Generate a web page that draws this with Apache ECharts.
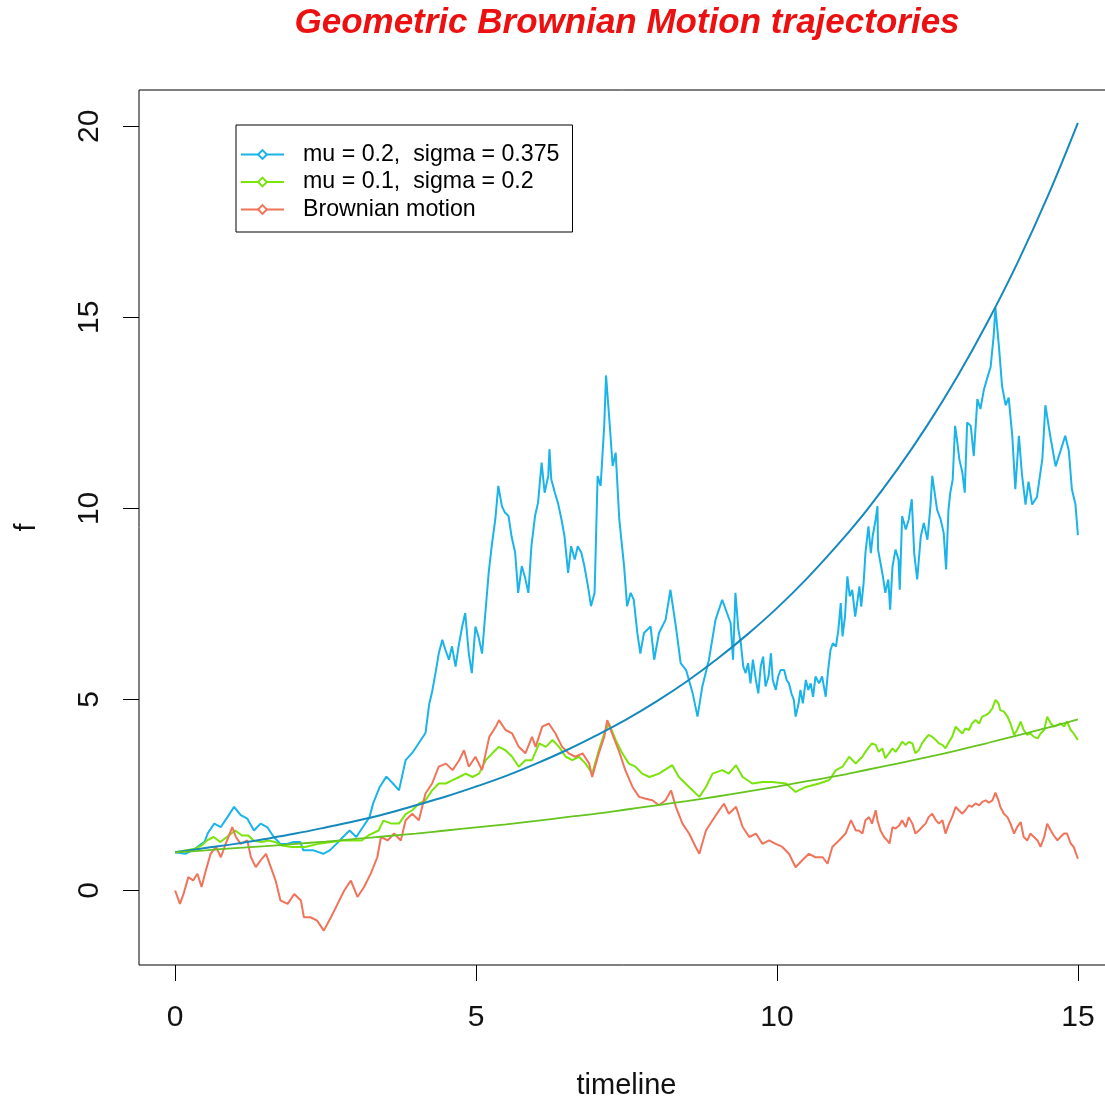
<!DOCTYPE html>
<html><head><meta charset="utf-8">
<script src="https://cdn.jsdelivr.net/npm/echarts@6/dist/echarts.min.js"></script>
<style>html,body{margin:0;padding:0;background:#fff}#c{width:1105px;height:1100px}</style>
</head><body><div id="c"></div><script>
const titleText = 'Geometric Brownian Motion trajectories';
const xName = 'timeline';
const yName = 'f';
const xTicks = [0, 5, 10, 15];
const yTicks = [0, 5, 10, 15, 20];
const legendNames = ['mu = 0.2,  sigma = 0.375', 'mu = 0.1,  sigma = 0.2', 'Brownian motion'];

// GBM trajectory mu=0.2 sigma=0.375 (time, value)
const blueT = [0.00,0.17,0.33,0.44,0.49,0.54,0.65,0.76,0.87,0.98,1.09,1.20,1.31,1.42,1.53,1.64,1.75,1.86,1.97,2.08,2.13,2.30,2.46,2.57,2.68,2.79,2.90,3.01,3.12,3.23,3.29,3.40,3.51,3.62,3.72,3.83,3.94,4.05,4.16,4.22,4.27,4.33,4.38,4.44,4.49,4.55,4.60,4.66,4.71,4.77,4.82,4.88,4.93,4.99,5.04,5.10,5.15,5.21,5.26,5.32,5.37,5.43,5.48,5.54,5.59,5.65,5.70,5.76,5.81,5.87,5.92,5.98,6.03,6.09,6.14,6.20,6.22,6.25,6.31,6.36,6.42,6.47,6.53,6.58,6.64,6.69,6.75,6.80,6.86,6.91,6.97,7.02,7.07,7.13,7.16,7.21,7.27,7.32,7.38,7.46,7.51,7.57,7.62,7.68,7.73,7.79,7.90,7.96,8.04,8.15,8.23,8.32,8.40,8.49,8.60,8.68,8.76,8.87,8.98,9.09,
  9.23,9.27,9.31,9.36,9.40,9.44,9.48,9.52,9.56,9.60,9.65,9.69,9.73,9.77,9.81,9.86,9.90,9.93,9.98,10.02,10.06,10.12,10.16,10.20,10.24,10.28,10.31,10.36,10.39,10.43,10.48,10.52,10.56,10.60,10.64,10.70,10.75,10.81,10.85,10.89,10.93,10.98,11.02,11.06,11.09,11.13,11.17,11.21,11.25,11.30,11.34,11.37,11.40,11.44,11.47,11.52,11.56,11.59,11.64,11.67,11.68,11.72,11.76,11.80,11.85,11.88,11.92,11.97,12.02,12.04,12.08,12.14,12.19,12.24,12.28,12.33,12.39,12.44,12.50,12.55,12.58,12.62,12.66,12.72,12.77,12.81,12.85,12.88,12.92,12.96,12.99,13.03,13.08,13.12,13.16,13.22,13.27,13.33,13.38,13.44,13.49,13.55,
  13.60,13.63,13.69,13.74,13.80,13.85,13.91,13.96,14.02,14.07,14.13,14.18,14.24,14.32,14.41,14.46,14.54,14.63,14.71,14.79,14.85,14.90,14.96,15.00];
const blueV = [1.00,0.96,1.09,1.22,1.27,1.49,1.75,1.66,1.92,2.19,1.97,1.88,1.57,1.75,1.66,1.40,1.22,1.22,1.27,1.27,1.05,1.05,0.96,1.05,1.22,1.40,1.57,1.40,1.66,1.92,2.28,2.71,2.98,2.80,2.62,3.41,3.60,3.86,4.12,4.86,5.20,5.72,6.20,6.56,6.30,6.04,6.39,5.86,6.39,6.91,7.26,6.20,5.69,6.91,6.65,6.20,7.17,8.31,9.01,9.71,10.59,10.06,9.89,9.80,9.27,8.84,7.79,8.49,8.22,7.79,9.01,9.80,10.15,11.20,10.41,10.85,11.55,10.76,10.41,10.15,9.71,9.27,8.31,9.01,8.66,9.01,8.84,8.49,7.96,7.44,7.79,10.85,10.59,12.17,13.48,12.43,11.11,11.46,9.71,8.49,7.44,7.79,7.61,6.74,6.20,6.74,6.91,6.04,6.74,7.09,7.87,6.91,5.95,5.77,5.16,4.55,5.34,6.04,7.09,7.61,
  7.00,6.04,7.79,6.82,6.47,5.86,5.69,5.95,5.42,6.04,5.51,5.16,5.86,6.12,5.34,5.60,6.21,5.51,5.25,5.60,5.77,5.77,5.51,5.42,5.16,4.99,4.55,4.90,5.25,4.90,5.51,5.25,5.42,5.07,5.60,5.42,5.60,5.07,5.77,6.30,6.47,6.38,6.82,7.52,6.65,7.17,8.22,7.70,7.87,7.17,7.61,7.96,7.43,8.05,8.83,9.53,8.83,9.27,9.71,10.06,8.92,8.57,8.22,7.79,8.14,7.35,8.49,8.92,8.66,7.87,9.80,9.45,9.71,10.24,8.83,8.14,9.27,9.62,9.18,10.06,10.85,10.41,9.97,9.71,9.36,8.40,9.97,10.41,10.76,12.16,11.81,11.29,10.94,10.41,12.25,12.16,11.37,12.86,12.60,13.12,13.39,13.70,
  14.50,15.25,14.20,13.20,12.70,12.90,11.90,10.50,11.90,10.90,10.10,10.70,10.10,10.30,11.30,12.70,11.90,11.10,11.50,11.90,11.50,10.50,10.10,9.30];

// GBM trajectory mu=0.1 sigma=0.2
const greenT = [0.00,0.17,0.33,0.44,0.53,0.64,0.75,0.86,1.00,1.11,1.22,1.30,1.44,1.55,1.66,1.77,1.94,2.16,2.38,2.60,2.77,2.94,3.10,3.21,3.38,3.46,3.60,3.72,3.83,3.94,4.05,4.16,4.27,4.38,4.50,4.61,4.72,4.83,4.94,5.05,5.16,5.27,5.38,5.49,5.60,5.71,5.82,5.93,6.05,6.16,6.27,6.38,6.49,6.60,6.71,6.82,6.93,7.04,7.13,7.21,7.32,7.43,7.54,7.65,7.76,7.88,8.04,8.26,8.37,8.54,8.71,8.82,8.93,9.09,9.20,9.32,9.43,9.59,9.76,9.92,10.15,10.31,10.48,10.70,10.87,10.98,11.09,11.20,11.31,
  11.36,11.42,11.47,11.53,11.58,11.64,11.69,11.75,11.80,11.86,11.92,11.97,12.03,12.08,12.14,12.19,12.25,12.30,12.36,12.41,12.47,12.52,12.58,12.64,12.69,12.75,12.80,12.86,12.91,12.97,13.02,13.08,13.13,13.19,13.24,13.30,13.36,13.41,13.47,13.52,13.58,13.63,13.68,13.71,13.77,13.83,13.88,13.94,13.99,14.05,14.10,14.16,14.21,14.27,14.33,14.38,14.44,14.49,14.55,14.60,14.66,14.71,14.77,14.82,14.88,14.93,15.00];
const greenV = [1.00,1.05,1.09,1.18,1.31,1.40,1.27,1.40,1.57,1.44,1.44,1.31,1.27,1.31,1.27,1.18,1.14,1.14,1.22,1.27,1.31,1.31,1.31,1.44,1.57,1.83,1.75,1.75,2.00,2.10,2.27,2.36,2.62,2.80,2.80,2.89,2.97,3.06,2.97,3.06,3.41,3.59,3.76,3.67,3.50,3.24,3.41,3.41,3.85,3.76,3.94,3.76,3.50,3.41,3.50,3.32,3.06,3.67,4.11,4.37,3.94,3.59,3.32,3.24,3.06,2.97,3.06,3.28,2.97,2.71,2.45,2.71,3.06,3.15,3.06,3.28,2.97,2.80,2.84,2.84,2.80,2.58,2.71,2.80,2.89,3.15,3.24,3.50,3.32,
  3.41,3.50,3.63,3.76,3.85,3.81,3.63,3.72,3.46,3.59,3.72,3.63,3.76,3.89,3.81,3.89,3.85,3.59,3.68,3.85,3.98,4.07,4.02,3.94,3.85,3.81,3.72,3.89,4.02,4.29,4.20,4.11,4.24,4.20,4.37,4.46,4.37,4.55,4.59,4.64,4.77,4.99,4.90,4.72,4.68,4.55,4.37,4.07,4.20,4.42,4.20,4.07,4.11,4.02,3.98,4.11,4.20,4.55,4.37,4.29,4.33,4.37,4.29,4.42,4.20,4.11,3.94];

// Brownian motion trajectory
const redT = [0.00,0.08,0.14,0.22,0.30,0.37,0.44,0.51,0.59,0.68,0.76,0.84,0.95,1.01,1.09,1.20,1.26,1.34,1.42,1.51,1.59,1.67,1.75,1.87,1.98,2.09,2.14,2.25,2.36,2.47,2.59,2.70,2.81,2.92,3.03,3.14,3.25,3.36,3.42,3.53,3.64,3.75,3.83,3.94,4.05,4.16,4.27,4.38,4.50,4.61,4.72,4.80,4.88,4.99,5.10,5.22,5.33,5.38,5.49,5.60,5.71,5.82,5.93,5.99,6.10,6.21,6.32,6.43,6.54,6.65,6.77,6.88,6.93,7.04,7.13,7.18,7.26,7.37,7.48,7.60,7.71,7.82,7.93,8.04,8.15,8.24,8.32,8.43,8.54,8.65,8.71,8.82,8.93,9.04,9.12,9.20,9.32,9.43,9.54,9.65,9.76,9.87,9.98,10.09,10.20,10.31,10.42,10.53,10.64,10.76,10.84,10.92,11.03,11.14,11.23,11.31,
  11.36,11.42,11.47,11.53,11.58,11.64,11.67,11.72,11.78,11.83,11.87,11.92,11.97,12.03,12.08,12.14,12.19,12.25,12.30,12.36,12.41,12.47,12.52,12.58,12.64,12.69,12.75,12.80,12.86,12.91,12.97,13.02,13.08,13.13,13.19,13.24,13.30,13.36,13.41,13.47,13.52,13.58,13.63,13.68,13.71,13.77,13.83,13.88,13.94,13.99,14.05,14.10,14.16,14.21,14.27,14.33,14.38,14.44,14.49,14.55,14.60,14.66,14.71,14.77,14.82,14.88,14.93,15.00];
const redV = [0.00,-0.35,-0.09,0.35,0.26,0.44,0.09,0.52,0.96,1.14,0.87,1.22,1.66,1.40,1.22,1.31,0.87,0.61,0.79,0.96,0.61,0.26,-0.26,-0.35,-0.09,-0.26,-0.70,-0.70,-0.79,-1.05,-0.70,-0.35,0.00,0.26,-0.17,0.09,0.44,0.87,1.40,1.31,1.49,1.31,1.84,2.01,1.84,2.54,2.80,3.24,3.32,3.15,3.41,3.67,3.24,3.50,3.15,4.02,4.29,4.46,4.20,4.11,3.76,3.59,4.02,3.76,4.29,4.37,4.11,3.76,3.59,3.50,3.59,3.32,2.97,3.59,4.02,4.46,4.11,3.67,3.15,2.71,2.45,2.40,2.36,2.23,2.36,2.62,2.19,1.75,1.49,1.14,0.96,1.57,1.84,2.10,2.27,2.01,2.19,1.66,1.40,1.49,1.22,1.31,1.22,1.14,0.96,0.61,0.79,0.96,0.87,0.87,0.70,1.14,1.31,1.49,1.84,1.57,
  1.57,1.49,1.84,1.92,1.75,2.10,1.84,1.57,1.40,1.31,1.23,1.66,1.62,1.70,1.84,1.66,1.92,1.75,1.49,1.57,1.66,1.75,1.92,2.01,1.84,1.75,1.84,1.49,1.75,1.92,2.19,2.10,2.01,2.10,2.23,2.19,2.28,2.23,2.32,2.36,2.30,2.36,2.56,2.36,2.19,2.01,1.92,1.75,1.49,1.66,1.79,1.40,1.31,1.49,1.40,1.31,1.14,1.40,1.75,1.57,1.44,1.31,1.40,1.49,1.49,1.23,1.14,0.83];

// Expected-value curves
const meanT = [0,0.5,1,1.5,2,2.5,3,3.5,4,4.5,5,5.5,6,6.5,7,7.5,8,8.5,9,9.5,10,10.5,11,11.5,12,12.5,13,13.5,14,14.5,15];
const blueMeanV = [1.00,1.11,1.22,1.35,1.49,1.65,1.82,2.01,2.23,2.46,2.72,3.00,3.32,3.67,4.06,4.48,4.95,5.47,6.05,6.69,7.39,8.17,9.03,9.97,11.02,12.18,13.46,14.88,16.44,18.17,20.09];
const greenMeanV = [1.00,1.05,1.11,1.16,1.22,1.28,1.35,1.42,1.49,1.57,1.65,1.73,1.82,1.92,2.01,2.12,2.23,2.34,2.46,2.59,2.72,2.86,3.00,3.16,3.32,3.49,3.67,3.86,4.06,4.26,4.48];

function pairs(t, v) { return t.map((x, i) => [x, v[i]]); }

const cBlue = '#1ab3ea', cBlueMean = '#1589bd', cGreen = '#7ae40c', cGreenMean = '#66c41e', cRed = '#f0735a';
const fontFam = '"Liberation Sans", Arial, sans-serif';

const chart = echarts.init(document.getElementById('c'), null, {renderer: 'canvas'});
chart.setOption({
  animation: false,
  backgroundColor: '#ffffff',
  title: {
    text: titleText, left: 627, top: 6, textAlign: 'center', padding: 0,
    textStyle: {color: '#ec1010', fontSize: 35, fontStyle: 'italic', fontWeight: 'bold', fontFamily: fontFam}
  },
  grid: {left: 139, top: 90, width: 975, height: 875, show: true, borderColor: '#000', borderWidth: 1,
         backgroundColor: 'transparent', outerBoundsMode: 'none', containLabel: false},
  legend: {
    orient: 'vertical', left: 236, top: 125, padding: [18, 13, 11, 4],
    borderColor: '#000', borderWidth: 1, borderRadius: 0, backgroundColor: '#fff',
    itemWidth: 43, itemHeight: 11, itemGap: 4.5,
    data: legendNames,
    textStyle: {fontSize: 23.2, color: '#000', fontFamily: fontFam, padding: [0, 0, 0, 14]},
    selectedMode: false
  },
  xAxis: {
    type: 'value', min: -0.6, max: 15.6,
    name: xName, nameLocation: 'middle', nameGap: 106,
    nameTextStyle: {fontSize: 29, color: '#111', fontFamily: fontFam},
    axisLine: {show: false, onZero: false},
    axisTick: {show: true, inside: false, length: 16, customValues: xTicks, lineStyle: {color: '#000', width: 1}},
    axisLabel: {show: true, customValues: xTicks, margin: 38, fontSize: 30, color: '#111', fontFamily: fontFam},
    splitLine: {show: false}
  },
  yAxis: {
    type: 'value', min: -1.95, max: 20.95,
    name: yName, nameLocation: 'middle', nameGap: 98, nameRotate: 90,
    nameTextStyle: {fontSize: 29, color: '#111', fontFamily: fontFam},
    axisLine: {show: false, onZero: false},
    axisTick: {show: true, inside: false, length: 16, customValues: yTicks, lineStyle: {color: '#000', width: 1}},
    axisLabel: {show: true, customValues: yTicks, rotate: 90, margin: 34, fontSize: 30, color: '#111', fontFamily: fontFam},
    splitLine: {show: false}
  },
  series: [
    {name: legendNames[0], type: 'line', data: pairs(blueT, blueV), symbol: 'emptyDiamond', showSymbol: false,
     lineStyle: {color: cBlue, width: 2}, itemStyle: {color: cBlue}, z: 2},
    {name: legendNames[1], type: 'line', data: pairs(greenT, greenV), symbol: 'emptyDiamond', showSymbol: false,
     lineStyle: {color: cGreen, width: 2}, itemStyle: {color: cGreen}, z: 2},
    {name: legendNames[2], type: 'line', data: pairs(redT, redV), symbol: 'emptyDiamond', showSymbol: false,
     lineStyle: {color: cRed, width: 2}, itemStyle: {color: cRed}, z: 2},
    {name: 'blue expected', type: 'line', data: pairs(meanT, blueMeanV), smooth: 0.4, symbol: 'none',
     lineStyle: {color: cBlueMean, width: 2}, z: 3},
    {name: 'green expected', type: 'line', data: pairs(meanT, greenMeanV), smooth: 0.4, symbol: 'none',
     lineStyle: {color: cGreenMean, width: 1.8}, z: 3}
  ]
});
</script></body></html>
